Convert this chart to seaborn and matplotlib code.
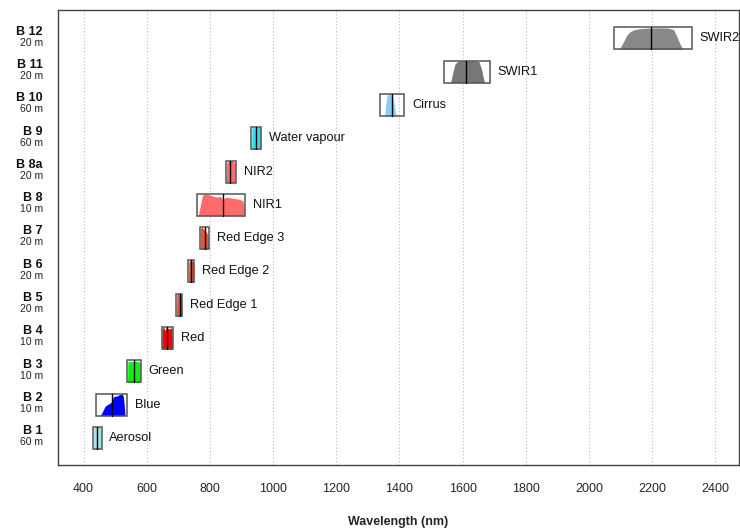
import numpy as np
import seaborn as sns
import matplotlib.pyplot as plt

bands = ['B 1', 'B 2', 'B 3', 'B 4', 'B 5', 'B 6', 'B 7', 'B 8', 'B 8a', 'B 9', 'B 10', 'B 11', 'B 12']
resolution = ['60 m', '10 m', '10 m', '10 m', '20 m', '20 m', '20 m', '10 m', '20 m', '60 m', '60 m', '20 m', '20 m']
names = ['Aerosol', 'Blue', 'Green', 'Red', 'Red Edge 1', 'Red Edge 2', 'Red Edge 3',
         'NIR1', 'NIR2', 'Water vapour', 'Cirrus', 'SWIR1', 'SWIR2']
band_min = [430, 440, 537, 647, 693, 731, 768, 760, 851, 930, 1340, 1541, 2080]
band_max = [457, 537, 582, 683, 713, 750, 798, 911, 883, 962, 1416, 1686, 2325]
band_center = [443, 491, 560, 665, 704, 740, 783, 842, 865, 945, 1377, 1610, 2195]
colors = ['#A6E3EE', '#0000FF', '#11EE11', '#FF0000', '#E8553A', '#E8553A', '#E8553A',
          '#FF6A6A', '#FF6A6A', '#2EE0E8', '#87CEFA', '#777777', '#888888']

# spectral response (wavelength nm, relative response)
b1_wl = [431, 432, 437, 441, 442, 444, 449, 455, 456]
b1_rs = [0, 0.95, 1.0, 0.97, 0.96, 0.98, 1.0, 0.95, 0]
b2_wl = [453, 456, 462, 468, 475, 482, 488, 491, 494, 500, 508, 514, 518, 522, 526, 529, 531]
b2_rs = [0, 0.08, 0.25, 0.42, 0.5, 0.55, 0.62, 0.7, 0.85, 0.88, 0.9, 0.97, 0.95, 1.0, 0.85, 0.4, 0]
b3_wl = [539, 540, 546, 552, 558, 564, 570, 576, 579, 580]
b3_rs = [0, 0.92, 0.96, 0.93, 0.95, 0.97, 0.94, 0.93, 0.9, 0]
b4_wl = [648, 649, 654, 658, 661, 665, 670, 675, 680, 681]
b4_rs = [0, 0.95, 0.97, 0.85, 0.95, 0.96, 0.9, 0.96, 0.93, 0]
b5_wl = [694, 695, 700, 705, 710, 712]
b5_rs = [0, 0.95, 1.0, 0.97, 0.95, 0]
b6_wl = [732, 733, 738, 743, 748, 749]
b6_rs = [0, 0.95, 1.0, 0.98, 0.95, 0]
b7_wl = [769, 770, 776, 781, 786, 790, 794, 796]
b7_rs = [0, 0.95, 1.0, 0.9, 0.85, 0.75, 0.6, 0]
b8_wl = [763, 770, 776, 782, 790, 800, 812, 822, 830, 840, 846, 852, 860, 870, 880, 890, 898, 904, 907, 909]
b8_rs = [0, 0.5, 0.93, 1.0, 0.98, 0.95, 0.88, 0.85, 0.9, 0.78, 0.8, 0.85, 0.83, 0.8, 0.78, 0.76, 0.72, 0.7, 0.5, 0]
b8a_wl = [852, 853, 858, 863, 868, 874, 879, 880]
b8a_rs = [0, 0.9, 0.97, 1.0, 0.98, 0.95, 0.9, 0]
b9_wl = [932, 933, 938, 944, 950, 956, 960, 961]
b9_rs = [0, 0.95, 1.0, 0.97, 0.98, 1.0, 0.95, 0]
b10_wl = [1353, 1358, 1362, 1368, 1374, 1378, 1384, 1389]
b10_rs = [0, 0.7, 0.97, 1.0, 1.0, 0.95, 0.5, 0]
b11_wl = [1562, 1568, 1576, 1584, 1600, 1620, 1640, 1652, 1660, 1666, 1670]
b11_rs = [0, 0.4, 0.85, 0.97, 1.0, 0.99, 1.0, 0.95, 0.6, 0.2, 0]
b12_wl = [2096, 2108, 2120, 2132, 2145, 2165, 2190, 2220, 2250, 2268, 2278, 2288, 2298]
b12_rs = [0, 0.3, 0.65, 0.82, 0.9, 0.95, 0.97, 0.98, 0.97, 0.9, 0.6, 0.25, 0]

srf_wl = [b1_wl, b2_wl, b3_wl, b4_wl, b5_wl, b6_wl, b7_wl, b8_wl, b8a_wl, b9_wl, b10_wl, b11_wl, b12_wl]
srf_rs = [b1_rs, b2_rs, b3_rs, b4_rs, b5_rs, b6_rs, b7_rs, b8_rs, b8a_rs, b9_rs, b10_rs, b11_rs, b12_rs]

sns.set_style('white')
plt.rcParams['font.family'] = ['Liberation Sans', 'DejaVu Sans']

fig = plt.figure(figsize=(7.4, 5.31), dpi=100)
ax = fig.add_axes([0.078, 0.124, 0.921, 0.857])

half = 0.33
for i in range(len(bands)):
    y = i + 1
    wl = np.array(srf_wl[i])
    rs = np.array(srf_rs[i])
    ax.fill_between(wl, y - half, y - half + 2 * half * rs, color=colors[i], lw=0, zorder=2)
    ax.add_patch(plt.Rectangle((band_min[i], y - half), band_max[i] - band_min[i], 2 * half,
                               fill=False, edgecolor='#555555', lw=1.1, zorder=3))
    ax.plot([band_center[i], band_center[i]], [y - half, y + half], color='black', lw=1.0, zorder=4)
    ax.annotate(names[i], (band_max[i], y), xytext=(5.5, 0), textcoords='offset points',
                ha='left', va='center', fontsize=9.2, color='#111111')

ax.set_xlim(318, 2476)
ax.set_ylim(0.18, 13.85)
ax.set_xticks(range(400, 2401, 200))
ax.set_xticklabels([str(v) for v in range(400, 2401, 200)], fontsize=9)
ax.set_yticks(range(1, len(bands) + 1))
ax.set_yticklabels([''] * len(bands))
ax.tick_params(axis='x', length=5, width=0.8, color='#555555', pad=8, direction='out')
ax.tick_params(axis='y', length=3, width=0.8, color='#555555', direction='out')
ax.xaxis.grid(True, linestyle=(0, (1, 2)), color='#bbbbbb', lw=0.8)
ax.set_axisbelow(True)
for s in ax.spines.values():
    s.set_color('#444444')
    s.set_linewidth(1.0)

trans = ax.get_yaxis_transform()
for i in range(len(bands)):
    ax.text(-0.022, i + 1 + 0.02, bands[i], transform=trans, ha='right', va='bottom',
            fontsize=9, fontweight='bold', color='#111111')
    ax.text(-0.022, i + 1 + 0.02, resolution[i], transform=trans, ha='right', va='top',
            fontsize=7.5, color='#222222')

ax.set_xlabel('Wavelength (nm)', fontsize=9, fontweight='bold', labelpad=15)

fig.savefig('out.png', dpi=100)
